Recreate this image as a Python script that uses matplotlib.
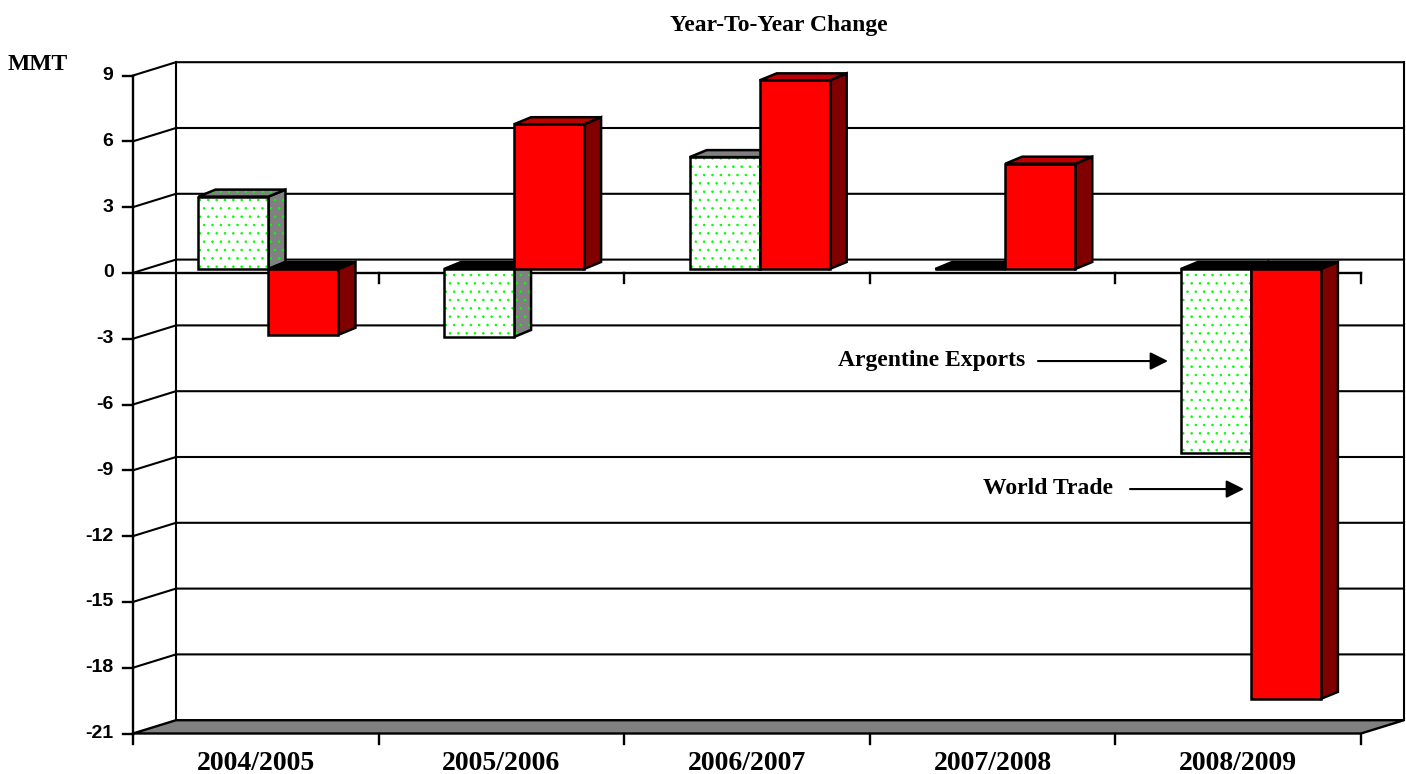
import matplotlib
matplotlib.use('Agg')
import matplotlib.pyplot as plt
from matplotlib.patches import Polygon

# values (MMT)
categories = ['2004/2005', '2005/2006', '2006/2007', '2007/2008', '2008/2009']
argentine_exports = [3.3, -3.1, 5.1, 0.0, -8.4]
world_trade = [-3.0, 6.6, 8.6, 4.8, -19.6]
y_ticks = [9, 6, 3, 0, -3, -6, -9, -12, -15, -18, -21]

SERIF = 'Liberation Serif'
SANS = 'Liberation Sans'
plt.rcParams['hatch.linewidth'] = 0.6

W, H = 1406, 774
fig = plt.figure(figsize=(W / 100, H / 100), dpi=100)
ax = fig.add_axes([133 / W, 1 - 733.5 / H, (1361 - 133) / W, (733.5 - 75.5) / H])
ymin, ymax = min(y_ticks), max(y_ticks)
ax.set_xlim(0, len(categories))
ax.set_ylim(ymin, ymax)
ax.axis('off')

# oblique "3d" depth offset of the walls, in data units
DX = 43 / 245.6
DY = 13.3 / 21.93


def P(x, y, t):
    return (x + DX * t, y + DY * t)


def line(pts, lw=1.5, z=1):
    xs, ys = zip(*pts)
    ax.plot(xs, ys, color='black', lw=lw, solid_capstyle='projecting', clip_on=False, zorder=z)


n = len(categories)

# walls and gridlines
for v in y_ticks:
    if v == ymin:
        continue
    line([P(0, v, 0), P(0, v, 1), P(n, v, 1)])
line([P(0, ymin, 1), P(0, ymax, 1)])
line([P(n, ymin, 1), P(n, ymax, 1)])
line([P(0, ymin, 0), P(0, ymax, 0)], lw=1.7, z=2)

# floor
floor = [P(0, ymin, 0), P(n, ymin, 0), P(n, ymin, 1), P(0, ymin, 1)]
ax.add_patch(Polygon(floor, closed=True, facecolor='#808080', edgecolor='black', lw=1.7,
                     clip_on=False, zorder=2))

# zero line with category ticks
line([P(0, 0, 0), P(n, 0, 0)], lw=1.7, z=2)
for i in range(1, n + 1):
    line([(i, 0), (i, -0.46)], lw=1.7, z=2)
for i in range(0, n + 1):
    line([(i, ymin), (i, ymin - 0.5)], lw=1.7, z=2)

# y ticks and labels
for v in y_ticks:
    line([(0, v), (-0.041, v)], lw=1.7, z=2)
    ax.annotate(str(v), xy=(0, v), xytext=(-14, 0), textcoords='offset points',
                ha='right', va='center', fontsize=14, fontweight='bold', family=SANS,
                annotation_clip=False)

# category labels
for i, c in enumerate(categories):
    ax.annotate(c, xy=(i + 0.5, ymin), xytext=(0, -26.3), textcoords='offset points',
                ha='center', va='baseline', fontsize=20, fontweight='bold', family=SERIF,
                annotation_clip=False)

# bars: front face sits a bit behind the front plane, own depth offsets
t0 = 0.295
BDX = 17 / 245.6
BDY = 7 / 21.93
bw = 0.285
zc = [10]


def B(x, y, back):
    px, py = P(x, y, t0)
    if back:
        return (px + BDX, py + BDY)
    return (px, py)


def face(pts, fc, hatch=None):
    z = zc[0]
    zc[0] += 1
    if hatch:
        ax.add_patch(Polygon(pts, closed=True, facecolor=fc, edgecolor='#00FF00', lw=0,
                             hatch=hatch, clip_on=False, zorder=z))
        ax.add_patch(Polygon(pts, closed=True, fill=False, edgecolor='black', lw=1.8,
                             joinstyle='miter', clip_on=False, zorder=z))
    else:
        ax.add_patch(Polygon(pts, closed=True, facecolor=fc, edgecolor='black', lw=1.8,
                             joinstyle='miter', clip_on=False, zorder=z))


def bar3d(x0, x1, v, front, side, top, hatch=None):
    top_y = max(v, 0)
    face([B(x1, 0, False), B(x1, 0, True), B(x1, v, True), B(x1, v, False)], side, hatch)
    top_c = top if v > 0 else 'black'
    face([B(x0, top_y, False), B(x1, top_y, False), B(x1, top_y, True), B(x0, top_y, True)],
         top_c, hatch if v > 0 else None)
    face([B(x0, 0, False), B(x1, 0, False), B(x1, v, False), B(x0, v, False)], front, hatch)


for i in range(n):
    c = i + 0.5
    bar3d(c - bw, c, argentine_exports[i], 'white', '#808080', '#808080', hatch='..')
    bar3d(c, c + bw, world_trade[i], '#FF0000', '#800000', '#C00000')

# title and unit
fig.text(779 / W, 1 - 31 / H, 'Year-To-Year Change', ha='center', va='baseline',
         fontsize=17, fontweight='bold', family=SERIF)
fig.text(8 / W, 1 - 70 / H, 'MMT', ha='left', va='baseline',
         fontsize=17, fontweight='bold', family=SERIF)


# series annotations
def to_data(px, py):
    return ((px - 133) / 245.6, ymax - (py - 75.5) / 21.93)


arrow = dict(arrowstyle='-|>', color='black', lw=1.5, mutation_scale=27, shrinkA=0, shrinkB=0)
ax.annotate('', xy=to_data(1168, 361), xytext=to_data(1038, 361), arrowprops=arrow,
            annotation_clip=False, zorder=40)
ax.text(*to_data(1025, 366), 'Argentine Exports', ha='right', va='baseline',
        fontsize=17, fontweight='bold', family=SERIF, zorder=40)
ax.annotate('', xy=to_data(1244, 489), xytext=to_data(1130, 489), arrowprops=arrow,
            annotation_clip=False, zorder=40)
ax.text(*to_data(1113, 494), 'World Trade', ha='right', va='baseline',
        fontsize=17, fontweight='bold', family=SERIF, zorder=40)

fig.savefig('out.png', dpi=100)
